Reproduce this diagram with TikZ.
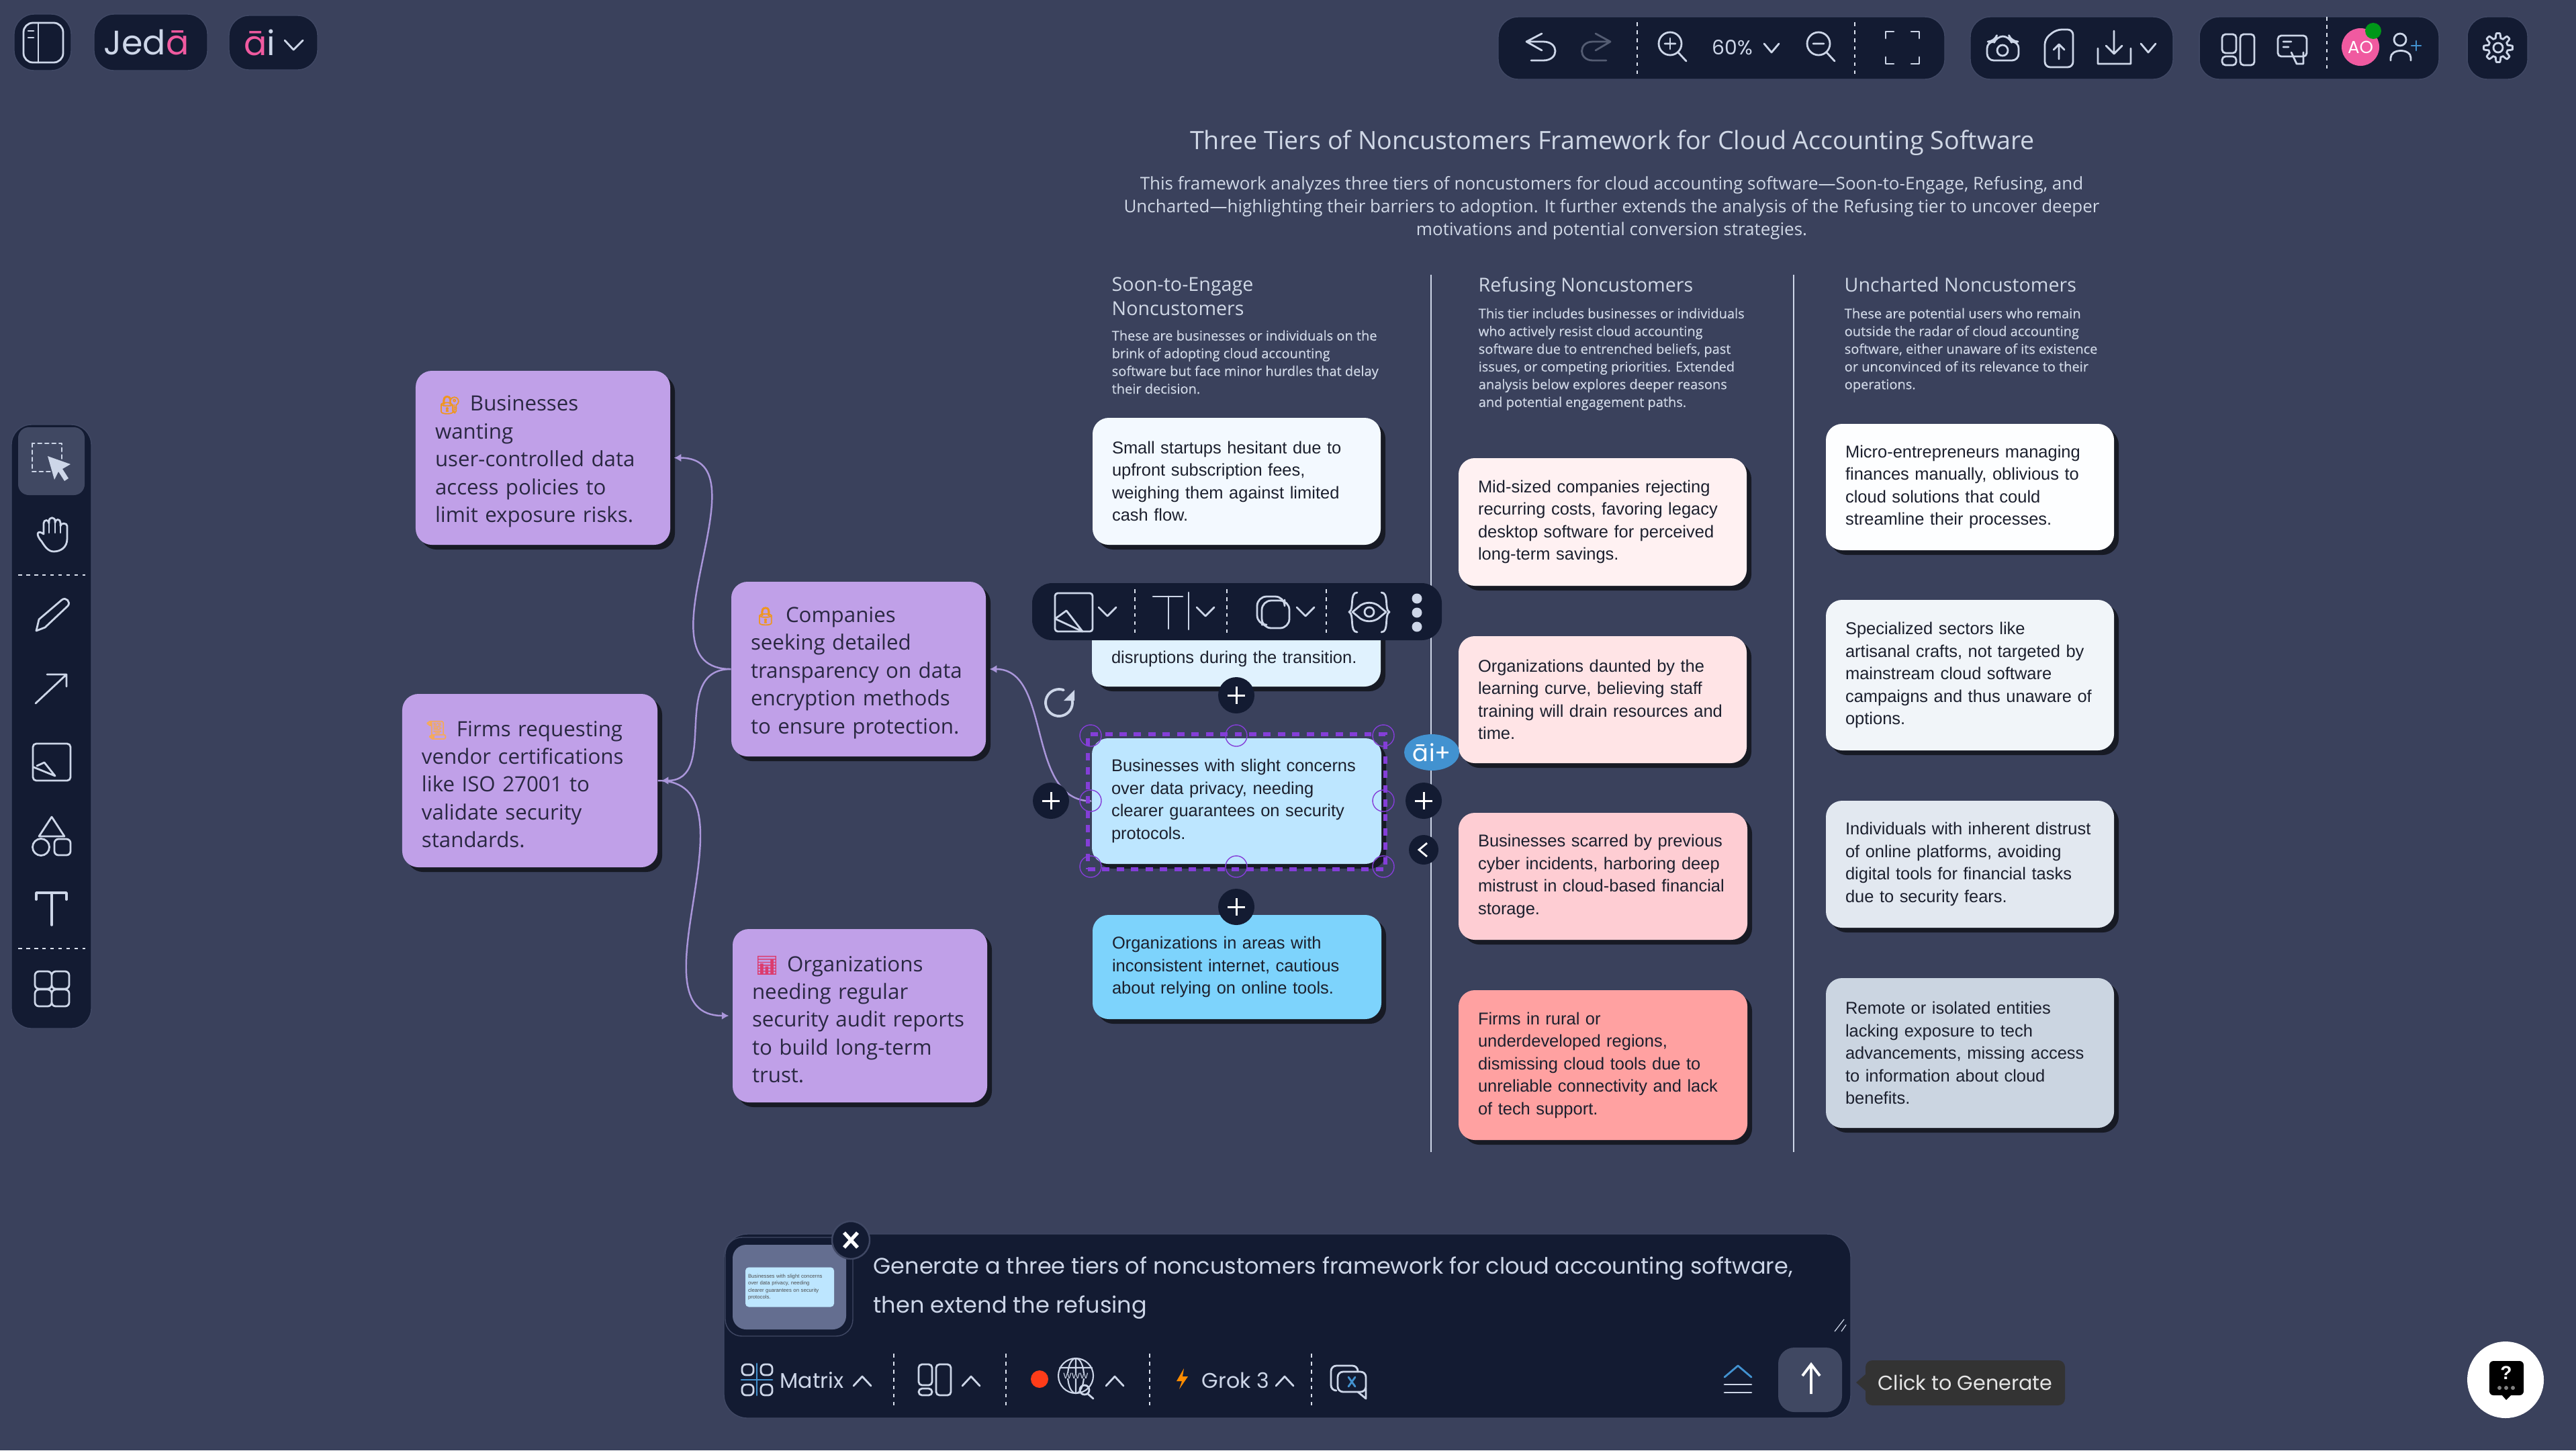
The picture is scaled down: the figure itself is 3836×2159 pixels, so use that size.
\documentclass[tikz,border=0pt]{standalone}
\usepackage{fontspec}
\usetikzlibrary{arrows.meta,shadows,shapes.geometric}
\newfontfamily\cardfont{Liberation Sans}
\newfontfamily\copyfont{Open Sans}
\newfontfamily\copyboldfont[FakeBold=.25]{Open Sans}
\newfontfamily\uifont{Poppins}
\newfontfamily\emojifont[FakeBold=2.5]{Noto Emoji}
\newcommand{\cardbox}[7]{%
\pgfmathsetmacro{\cw}{(#4-#2)*.1}\pgfmathsetmacro{\ch}{(#5-#3)*.1}\pgfmathsetmacro{\tw}{(#4-#2)*.1-5.8}%
\node[#6,minimum width=\cw mm,minimum height=\ch mm,text width=\tw mm] (#1) at ({(#2+#4)/2},{(#3+#5)/2}) {#7};}
\newcommand{\emo}[2]{\rule{0pt}{3.4mm}\makebox[5.2mm][l]{\hspace{.5mm}{\emojifont\fontsize{7.6pt}{8pt}\selectfont\color{#1}#2}}}

\begin{document}
\begin{tikzpicture}[x=.1mm,y=-.1mm,
card/.style={rectangle,rounded corners=2.4mm,inner xsep=2.9mm,inner ysep=0pt,align=left,text=cardink,
  font=\cardfont\fontsize{7.25pt}{9.53pt}\selectfont,
  drop shadow={shadow xshift=.7mm,shadow yshift=-.7mm,opacity=.6,fill=black}},
gripcard/.style={card,fill=lilac,text=gripink,font=\copyfont\fontsize{8.9pt}{11.78pt}\selectfont},
copy/.style={anchor=north west,inner sep=0pt,align=left,text=copyink,font=\copyboldfont\fontsize{5.7pt}{7.5pt}\selectfont},
heading/.style={anchor=north west,inner sep=0pt,align=left,text=copyink,font=\copyfont\fontsize{8.15pt}{10.24pt}\selectfont},
ui/.style={inner sep=0pt,text=iconc,font=\uifont\fontsize{9pt}{11pt}\selectfont},
panel/.style={fill=panelc,draw=panelline,line width=.4pt,rounded corners=3mm},
icon/.style={draw=iconc,line width=.8pt,line join=round,line cap=round},
sep/.style={draw=iconc!70,line width=.35pt,dash pattern=on 1.6pt off 1.8pt},
link/.style={draw=linkc,line width=.7pt,-{Latex[length=3pt,width=3.4pt]},shorten >=.5mm},
addbtn/.style={circle,fill=panelc,minimum size=5.4mm,inner sep=0pt},
handle/.style={circle,draw=selc,line width=.4pt,minimum size=3.2mm,inner sep=0pt}]

\definecolor{bg}{RGB}{58,65,92};
\definecolor{panelc}{RGB}{19,27,50};
\definecolor{panelline}{RGB}{64,72,100};
\definecolor{iconc}{RGB}{205,214,232};
\definecolor{copyink}{RGB}{208,216,230};
\definecolor{cardink}{RGB}{28,32,46};
\definecolor{gripink}{RGB}{42,40,66};
\definecolor{lilac}{RGB}{192,160,232};
\definecolor{linkc}{RGB}{170,150,218};
\definecolor{selc}{RGB}{132,62,216};
\definecolor{active}{RGB}{64,72,98};
\definecolor{logopink}{RGB}{240,90,160};
\definecolor{skyA}{RGB}{243,249,255};
\definecolor{skyB}{RGB}{224,242,254};
\definecolor{skyC}{RGB}{189,230,255};
\definecolor{skyD}{RGB}{125,211,252};
\definecolor{roseA}{RGB}{255,241,242};
\definecolor{roseB}{RGB}{255,228,230};
\definecolor{roseC}{RGB}{254,205,211};
\definecolor{roseD}{RGB}{255,161,161};
\definecolor{slateA}{RGB}{253,254,255};
\definecolor{slateB}{RGB}{241,245,249};
\definecolor{slateC}{RGB}{226,232,240};
\definecolor{slateD}{RGB}{203,213,225};
\definecolor{lockc}{RGB}{240,150,30};
\definecolor{scrollc}{RGB}{245,170,90};
\definecolor{chartc}{RGB}{220,60,110};
\definecolor{btnblue}{RGB}{66,146,208};
\definecolor{thumbc}{RGB}{100,110,144};
\definecolor{tipc}{RGB}{51,51,51};

\fill[bg] (0,0) rectangle (3836,2159);
\useasboundingbox (0,0) rectangle (3836,2159);

% heading text
\node[inner sep=0pt,text=copyink,font=\copyfont\fontsize{10.7pt}{12pt}\selectfont] (title) at (2401,213) {Three Tiers of Noncustomers Framework for Cloud Accounting Software};
\node[inner sep=0pt,align=center,text=copyink,font=\copyfont\fontsize{7.4pt}{9.67pt}\selectfont] (subtitle) at (2400,310) {This framework analyzes three tiers of noncustomers for cloud accounting software—Soon-to-Engage, Refusing, and\\Uncharted—highlighting their barriers to adoption. It further extends the analysis of the Refusing tier to uncover deeper\\motivations and potential conversion strategies.};

\node[heading] (headsoon) at (1655,412) {Soon-to-Engage\\Noncustomers};
\node[heading] (headrefuse) at (2201,412) {Refusing Noncustomers};
\node[heading] (headuncharted) at (2746,412) {Uncharted Noncustomers};
\node[copy] (copysoon) at (1655,491) {These are businesses or individuals on the\\brink of adopting cloud accounting\\software but face minor hurdles that delay\\their decision.};
\node[copy] (copyrefuse) at (2201,458) {This tier includes businesses or individuals\\who actively resist cloud accounting\\software due to entrenched beliefs, past\\issues, or competing priorities. Extended\\analysis below explores deeper reasons\\and potential engagement paths.};
\node[copy] (copyuncharted) at (2746,458) {These are potential users who remain\\outside the radar of cloud accounting\\software, either unaware of its existence\\or unconvinced of its relevance to their\\operations.};

\foreach \x in {2131,2671}{
\draw[draw=iconc,line width=.8pt] (\x,409)--(\x,1715);
}

% the three columns
\cardbox{soonone}{1627}{622}{2056}{811}{card,fill=skyA}{Small startups hesitant due to\\upfront subscription fees,\\weighing them against limited\\cash flow.}
\cardbox{soontwo}{1626}{868}{2056}{1022}{card,fill=skyB}{\strut\\\mbox{}\\disruptions during the transition.}
\cardbox{soonthree}{1626}{1099}{2057}{1286}{card,fill=skyC}{Businesses with slight concerns\\over data privacy, needing\\clearer guarantees on security\\protocols.}
\cardbox{soonfour}{1627}{1362}{2057}{1517}{card,fill=skyD}{Organizations in areas with\\inconsistent internet, cautious\\about relying on online tools.}

\cardbox{refuseone}{2172}{682}{2601}{872}{card,fill=roseA}{Mid-sized companies rejecting\\recurring costs, favoring legacy\\desktop software for perceived\\long-term savings.}
\cardbox{refusetwo}{2172}{947}{2601}{1136}{card,fill=roseB}{Organizations daunted by the\\learning curve, believing staff\\training will drain resources and\\time.}
\cardbox{refusethree}{2172}{1210}{2602}{1399}{card,fill=roseC}{Businesses scarred by previous\\cyber incidents, harboring deep\\mistrust in cloud-based financial\\storage.}
\cardbox{refusefour}{2172}{1474}{2602}{1697}{card,fill=roseD}{Firms in rural or\\underdeveloped regions,\\dismissing cloud tools due to\\unreliable connectivity and lack\\of tech support.}

\cardbox{unchartone}{2719}{631}{3148}{819}{card,fill=slateA}{Micro-entrepreneurs managing\\finances manually, oblivious to\\cloud solutions that could\\streamline their processes.}
\cardbox{unchartwo}{2719}{893}{3148}{1117}{card,fill=slateB}{Specialized sectors like\\artisanal crafts, not targeted by\\mainstream cloud software\\campaigns and thus unaware of\\options.}
\cardbox{unchartthree}{2719}{1192}{3148}{1381}{card,fill=slateC}{Individuals with inherent distrust\\of online platforms, avoiding\\digital tools for financial tasks\\due to security fears.}
\cardbox{unchartfour}{2719}{1456}{3148}{1679}{card,fill=slateD}{Remote or isolated entities\\lacking exposure to tech\\advancements, missing access\\to information about cloud\\benefits.}

% the extension on the left
\cardbox{gripone}{619}{552}{998}{811}{gripcard}{\emo{lockc}{🔐}Businesses\\wanting\\user-controlled data\\access policies to\\limit exposure risks.}
\cardbox{griptwo}{1089}{866}{1468}{1126}{gripcard}{\emo{lockc}{🔒}Companies\\seeking detailed\\transparency on data\\encryption methods\\to ensure protection.}
\cardbox{gripthree}{599}{1033}{979}{1291}{gripcard}{\emo{scrollc}{📜}Firms requesting\\vendor certifications\\like ISO 27001 to\\validate security\\standards.}
\cardbox{gripfour}{1091}{1383}{1470}{1641}{gripcard}{\emo{chartc}{📊}Organizations\\needing regular\\security audit reports\\to build long-term\\trust.}

\draw[link] (griptwo.west) to[out=180,in=0,looseness=1.15] (gripone.east);
\draw[link] (griptwo.west) to[out=180,in=0,looseness=1.2] (gripthree.east);
\draw[link] (gripthree.east) to[out=0,in=180,looseness=1.1] (gripfour.west);
\draw[link] (soonthree.west) to[out=180,in=0] (griptwo.east);

% selection round the third card
\node[draw=selc,line width=1.5pt,dash pattern=on 3.1pt off 3pt,rectangle,minimum width=44.3mm,minimum height=20.1mm,inner sep=0pt] (selframe) at (1841.5,1193.5) {};
\foreach \n/\x/\y in {hnw/1624/1095,hn/1841/1095,hne/2060/1095,hw/1624/1192,he/2060/1192,hsw/1624/1290,hs/1841/1290,hse/2060/1290}{
\node[handle] (\n) at (\x,\y) {};
}
\node[addbtn] (addtop) at (1841,1035) {};
\node[addbtn] (addlow) at (1841,1350) {};
\node[addbtn] (addleft) at (1565,1192) {};
\node[addbtn] (addright) at (2120,1192) {};
\foreach \b in {addtop,addlow,addleft,addright}{
\draw[draw=white,line width=.85pt] (\b.center) +(-13,0) -- +(13,0) +(0,-13) -- +(0,13);
}
\node[circle,fill=panelc,minimum size=4.4mm,inner sep=0pt] (collapse) at (2120,1265) {};
\draw[draw=white,line width=.8pt] (2125,1255)--(2113,1265)--(2125,1275);
\node[ellipse,fill=btnblue,minimum width=8.2mm,minimum height=5.4mm,inner sep=0pt,text=white,font=\uifont\fontsize{10pt}{11pt}\selectfont] (aiplus) at (2132,1120) {ā\hspace{.4pt}i+};
\draw[icon,line width=1.1pt] plot[domain=-20:290,samples=30] ({1577+20*cos(\x)},{1046+20*sin(\x)});
\fill[iconc] (1600,1027)--(1600,1043)--(1584,1043)--cycle;

% floating toolbar over the card
\fill[panel,draw=none] (1537,868) rectangle (2147,953);
\foreach \x in {1690,1827,1975}{
\draw[sep] (\x,877)--(\x,944);
}
\foreach \x in {1649,1795,1944}{
\draw[icon] (\x-13,904)--(\x,917)--(\x+13,904);
}
\draw[icon,rounded corners=.4mm] (1571,883) rectangle (1627,940);
\draw[icon] (1571,921)--(1612,940)--(1588,909)--(1577,917)--(1571,921);
\draw[icon] (1717,888)--(1761,888) (1740,888)--(1740,936) (1770,882)--(1770,937);
\draw[icon,rounded corners=1.4mm] (1913,893)--(1913,888)--(1872,888)--(1872,930)--(1879,930);
\draw[icon,rounded corners=1.4mm] (1879,894) rectangle (1920,935);
\draw[icon] (2014,911)--(2026,901) .. controls (2034,896) and (2044,896) .. (2052,901)--(2064,911)--(2052,921) .. controls (2044,926) and (2034,926) .. (2026,921)--cycle;
\draw[icon] (2039,911) circle (7);
\draw[icon] (2021,882) .. controls (2009,882) and (2017,908) .. (2009,911) .. controls (2017,914) and (2009,941) .. (2021,941);
\draw[icon] (2057,882) .. controls (2069,882) and (2061,908) .. (2069,911) .. controls (2061,914) and (2069,941) .. (2057,941);
\foreach \y in {891,912,933}{
\fill[iconc] (2110,\y) circle (7.5);
}

% top left buttons
\fill[panel] (21,21) rectangle (106,105);
\fill[panel] (140,21) rectangle (309,105);
\fill[panel] (341,23) rectangle (473,104);
\draw[icon,rounded corners=1.4mm] (35,34) rectangle (94,93);
\draw[icon] (57,34)--(57,93) (42,46)--(50,46) (42,56)--(50,56);
\node[ui,font=\uifont\fontsize{14.4pt}{16pt}\selectfont] (logo) at (218,63) {Jed{\color{logopink}ā}};
\node[ui,font=\uifont\fontsize{14.4pt}{16pt}\selectfont] (ailogo) at (387,63) {{\color{logopink}ā}i};
\draw[icon] (424,60)--(437,74)--(451,60);

% top right bars
\fill[panel] (2231,25) rectangle (2896,118);
\fill[panel] (2934,25) rectangle (3236,118);
\fill[panel] (3275,25) rectangle (3632,118);
\fill[panel] (3674,25) rectangle (3764,118);
\foreach \x/\a/\b in {2438/33/110,2762/33/110,3465/25/102}{
\draw[sep] (\x,\a)--(\x,\b);
}
\draw[icon] (2296,50)--(2273,62)--(2296,75) (2273,62)--(2298,62) .. controls (2322,62) and (2322,90) .. (2298,90)--(2280,90);
\draw[icon,draw=iconc!35!panelc] (2376,50)--(2398,62)--(2376,75) (2398,62)--(2372,62) .. controls (2350,62) and (2350,90) .. (2372,90)--(2392,90);
\foreach \x in {2487,2708}{
\draw[icon] (\x,65) circle (17) (\x+12,78)--(\x+24,91) (\x-8,65)--(\x+8,65);
}
\draw[icon] (2487,57)--(2487,73);
\node[ui,font=\uifont\fontsize{8.5pt}{10pt}\selectfont] (zoomlevel) at (2580,71) {60\%};
\foreach \x in {2638,3199}{
\draw[icon] (\x-11,65)--(\x,78)--(\x+11,65);
}
\draw[icon] (2808,57)--(2808,47)--(2820,47) (2846,47)--(2858,47)--(2858,57) (2858,85)--(2858,95)--(2846,95) (2820,95)--(2808,95)--(2808,85);
\draw[icon,rounded corners=1mm] (2959,62)--(2970,62)--(2973,54)--(2992,54)--(2995,62)--(3006,62)--(3006,90)--(2959,90)--cycle;
\draw[icon] (2982,75) circle (8);
\draw[icon,rounded corners=.8mm] (3062,44)--(3045,58)--(3045,100)--(3087,100)--(3087,44)--cycle;
\draw[icon] (3066,88)--(3066,66) (3058,74)--(3066,66)--(3074,74);
\draw[icon] (3148,46)--(3148,80) (3136,68)--(3148,80)--(3160,68) (3124,72)--(3124,95)--(3173,95)--(3173,72);
\draw[icon,rounded corners=.5mm] (3309,51) rectangle (3330,79) (3309,84) rectangle (3330,97) (3336,51) rectangle (3357,97);
\draw[icon,rounded corners=.5mm] (3392,53) rectangle (3435,84);
\draw[icon] (3400,62)--(3412,62) (3400,70)--(3408,70) (3412,78)--(3420,95)--(3430,95)--(3430,78);
\node[circle,fill=logopink,minimum size=5.6mm,inner sep=0pt,text=white,font=\uifont\fontsize{7.4pt}{9pt}\selectfont] (avatar) at (3515,70) {AO};
\node[circle,fill=green!55!black!90!cyan,minimum size=2.4mm,inner sep=0pt] (online) at (3534,46) {};
\draw[icon] (3574,59) circle (9);
\draw[icon] (3560,90)--(3560,86) .. controls (3560,72) and (3590,72) .. (3590,86)--(3590,90);
\draw[icon,draw=btnblue] (3598,61)--(3598,75) (3591,68)--(3605,68);
\draw[icon] plot[domain=0:360,samples=97] ({3720+(18+3.5*sign(cos(8*\x)))*cos(\x)},{71+(18+3.5*sign(cos(8*\x)))*sin(\x)});
\draw[icon] (3720,71) circle (7);

% tool column
\fill[panel] (17,632) rectangle (136,1531);
\fill[active,rounded corners=1.6mm] (27,636) rectangle (126,737);
\draw[icon,dash pattern=on 1.5pt off 1.5pt] (48,660) rectangle (92,702);
\fill[iconc] (71,679)--(105,691)--(93,698)--(102,712)--(96,716)--(87,702)--(81,714)--cycle;
\draw[icon] (62,806) .. controls (52,795) and (56,788) .. (65,795)--(65,779) .. controls (65,773) and (73,773) .. (73,779)--(73,776) .. controls (73,769) and (82,769) .. (82,776)--(82,778) .. controls (82,772) and (90,772) .. (90,778)--(90,783) .. controls (90,778) and (100,778) .. (100,783)--(100,802) .. controls (100,815) and (90,821) .. (80,821) .. controls (72,821) and (67,814) .. (62,806);
\draw[icon] (73,779)--(73,793) (82,778)--(82,793) (90,783)--(90,793);
\foreach \y in {856,1412}{
\draw[sep] (27,\y)--(127,\y);
}
\draw[icon] (54,939)--(58,922)--(92,893) .. controls (98,888) and (106,896) .. (101,902)--(67,934)--cycle;
\draw[icon] (53,1047)--(99,1004) (70,1004)--(99,1004)--(99,1022);
\draw[icon,rounded corners=.5mm] (49,1107) rectangle (105,1162);
\draw[icon] (50,1142)--(82,1155) (82,1155)--(66,1135)--(55,1140);
\draw[icon] (77,1216)--(58,1245)--(96,1245)--cycle;
\draw[icon] (61,1261) circle (12.5);
\draw[icon,rounded corners=.6mm] (81,1249) rectangle (105,1273);
\draw[icon,line width=1pt] (54,1339)--(54,1329)--(99,1329)--(99,1339) (77,1329)--(77,1377);
\draw[icon,rounded corners=.6mm] (52,1446) rectangle (77,1472) (77,1446) rectangle (103,1472) (52,1473) rectangle (77,1498) (77,1473) rectangle (103,1498);

% prompt panel
\fill[panel,rounded corners=3.5mm] (1078,1837) rectangle (2756,2111);
\fill[panel,rounded corners=2.5mm] (1080,1842) rectangle (1270,1989);
\fill[fill=thumbc,rounded corners=2mm] (1091,1853) rectangle (1260,1979);
\node[fill=skyC,rounded corners=.5mm,minimum width=13.2mm,minimum height=5.9mm,inner sep=0pt,text width=12.4mm,align=left,text=black!70,font=\cardfont\fontsize{2.2pt}{2.96pt}\selectfont] (thumbcard) at (1176,1916) {Businesses with slight concerns\\over data privacy, needing\\clearer guarantees on security\\protocols.};
\node[circle,fill=panelc,draw=panelline,line width=.7pt,minimum size=5.6mm,inner sep=0pt] (closebtn) at (1267,1846) {};
\draw[draw=white,line width=1.5pt] (closebtn.center) +(-10,-11) -- +(10,11) +(10,-11) -- +(-10,11);
\node[ui,anchor=west,align=left,font=\uifont\fontsize{9.55pt}{16.5pt}\selectfont] (prompt) at (1300,1917) {Generate a three tiers of noncustomers framework for cloud accounting software,\\then extend the refusing};

\foreach \x in {1331,1498,1712,1953}{
\draw[sep] (\x,2015)--(\x,2092);
}
\draw[icon,rounded corners=.6mm] (1105,2031) rectangle (1122,2047) (1133,2031) rectangle (1150,2047) (1105,2061) rectangle (1122,2077) (1133,2061) rectangle (1150,2077);
\draw[icon,draw=btnblue] (1104,2054)--(1150,2054) (1127,2030)--(1127,2077);
\node[ui,anchor=west] (matrix) at (1161,2055) {Matrix};
\foreach \x in {1284,1446,1660,1913}{
\draw[icon] (\x-13,2063)--(\x,2049)--(\x+13,2063);
}
\draw[icon,rounded corners=.5mm] (1368,2031) rectangle (1388,2062) (1368,2067) rectangle (1388,2077) (1394,2031) rectangle (1416,2077);
\fill[red!70!orange!90!white] (1548,2053) circle (13);
\draw[icon,line width=.6pt] (1602,2048) circle (26);
\draw[icon,line width=.6pt] (1602,2048) ellipse (12 and 26) (1578,2036)--(1626,2036) (1602,2022)--(1602,2074);
\node[ui,fill=panelc,font=\uifont\fontsize{4.3pt}{5pt}\selectfont] (wwwtag) at (1602,2048) {www};
\draw[icon] (1615,2069) circle (7) (1620,2075)--(1628,2082);
\fill[orange!90!yellow] (1763,2037)--(1752,2056)--(1760,2056)--(1756,2068)--(1769,2049)--(1761,2049)--cycle;
\node[ui,anchor=west] (grokthree) at (1789,2055) {Grok 3};
\draw[icon,rounded corners=.8mm] (1990,2070)--(1982,2070)--(1982,2033)--(2022,2033)--(2022,2042);
\draw[icon,rounded corners=.8mm] (1992,2042) rectangle (2034,2072);
\draw[icon] (2022,2072)--(2034,2082)--(2034,2066);
\draw[icon,draw=btnblue] (2008,2050)--(2018,2064) (2018,2050)--(2008,2064);
\draw[icon,draw=btnblue] (2568,2050)--(2588,2033)--(2608,2050);
\draw[icon] (2568,2061)--(2608,2061) (2568,2073)--(2608,2073);
\fill[active,rounded corners=2.4mm] (2648,2006) rectangle (2743,2102);
\draw[draw=white,line width=1.1pt] (2697,2075)--(2697,2033) (2684,2048)--(2697,2031)--(2710,2048);
\draw[draw=iconc,line width=.35pt] (2732,1982)--(2746,1964) (2742,1982)--(2749,1972);

% tooltip and help
\node[rectangle,fill=tipc,rounded corners=1mm,minimum width=29.7mm,minimum height=6.7mm,inner sep=0pt,text=white!90!black,font=\uifont\fontsize{8.6pt}{10pt}\selectfont] (tooltip) at (2926.5,2058.5) {Click to Generate};
\fill[tipc] (2764,2058)--(2780,2044)--(2780,2072)--cycle;
\node[circle,fill=white,minimum size=11.4mm,inner sep=0pt] (helpbtn) at (3731,2054) {};
\fill[black,rounded corners=.6mm] (3707,2026) rectangle (3758,2077);
\fill[black] (3725,2076)--(3740,2076)--(3732,2084)--cycle;
\node[inner sep=0pt,text=white,font=\cardfont\bfseries\fontsize{8pt}{9pt}\selectfont] (helpmark) at (3732,2044) {?};
\foreach \x in {3722,3732,3742}{
\fill[gray] (\x,2066) circle (3);
}
\end{tikzpicture}
\end{document}
